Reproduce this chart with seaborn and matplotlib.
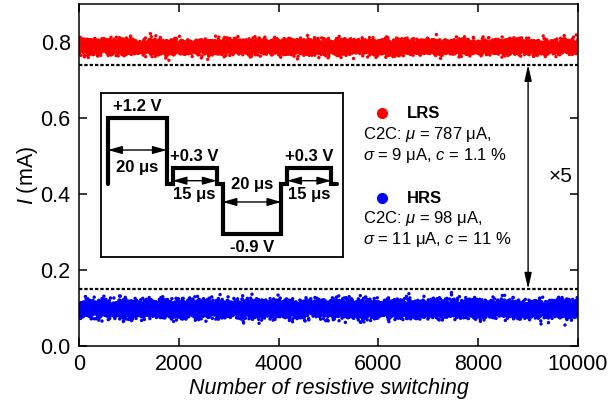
import numpy as np
import pandas as pd
import matplotlib
matplotlib.use("Agg")
import matplotlib.pyplot as plt
import seaborn as sns
from statistics import NormalDist

# ---- data -------------------------------------------------------------
n_cycles = 10000
states = ["LRS", "HRS"]
state_colors = ["#ff0000", "#0000ff"]
mean_uA = [787, 98]          # C2C mean current (µA)
sigma_uA = [9, 11]           # C2C standard deviation (µA)
cv_text = ["1.1", "11"]      # coefficient of variation (%)
read_limits_mA = [0.74, 0.15]  # dotted read-window bounds
window_ratio_label = "×5"
window_cycle = 9000

# write/read pulse train used for every switching cycle
pulse_volts = [1.2, 0.3, -0.9, 0.3]
pulse_width_us = [20, 15, 20, 15]
pulse_volt_labels = ["+1.2 V", "+0.3 V", "-0.9 V", "+0.3 V"]

x_ticks = [0, 2000, 4000, 6000, 8000, 10000]
y_ticks = [0.0, 0.2, 0.4, 0.6, 0.8]


def cycle_currents(mu, sd, n, salt):
    """Normal-quantile currents with the given mean/sigma, spread over cycles."""
    dist = NormalDist(mu, sd)
    q = np.array([dist.inv_cdf((i + 0.5) / n) for i in range(n)])
    idx = np.arange(n)
    order = np.argsort(np.modf(np.abs(np.sin(idx * 12.9898 + salt) * 43758.5453))[0])
    return q[order] / 1000.0


cycles = np.arange(1, n_cycles + 1)
frames = []
for k, st in enumerate(states):
    frames.append(pd.DataFrame({
        "cycle": cycles,
        "current": cycle_currents(mean_uA[k], sigma_uA[k], n_cycles, 78.233 * (k + 1)),
        "state": st,
    }))
df = pd.concat(frames, ignore_index=True)

# ---- style ------------------------------------------------------------
sns.set_theme(style="ticks")
plt.rcParams["font.family"] = ["Liberation Sans", "DejaVu Sans"]
plt.rcParams["mathtext.fontset"] = "custom"
plt.rcParams["mathtext.rm"] = "Liberation Sans"
plt.rcParams["mathtext.it"] = "Liberation Sans:italic"
plt.rcParams["mathtext.bf"] = "Liberation Sans:bold"
for key in ["text.color", "axes.labelcolor", "xtick.color", "ytick.color",
            "axes.edgecolor"]:
    plt.rcParams[key] = "black"

fig = plt.figure(figsize=(6.08, 4.07), dpi=100)
ax = fig.add_axes([79 / 608, 61 / 407, 499 / 608, 342 / 407])

sns.scatterplot(data=df, x="cycle", y="current", hue="state",
                palette=dict(zip(states, state_colors)), s=6, linewidth=0,
                legend=False, ax=ax, rasterized=True)

for lim in read_limits_mA:
    ax.axhline(lim, color="black", lw=1.6, ls=(0, (1.5, 0.9)), zorder=3)

ax.annotate("", xy=(window_cycle, read_limits_mA[1]),
            xytext=(window_cycle, read_limits_mA[0]),
            arrowprops=dict(arrowstyle="<|-|>,head_length=0.8,head_width=0.18",
                            color="black", lw=1.0, shrinkA=0, shrinkB=0), zorder=4)
ax.text(window_cycle + 400, 0.445, window_ratio_label, fontsize=15,
        ha="left", va="center")

ax.set_xlim(0, n_cycles)
ax.set_ylim(0, 0.9)
ax.set_xticks(x_ticks)
ax.set_yticks(y_ticks)
ax.set_yticklabels([f"{v:.1f}" for v in y_ticks])
ax.tick_params(direction="in", length=6, width=1.1, labelsize=15.5,
               top=True, right=True, pad=6, colors="black")
for sp in ax.spines.values():
    sp.set_linewidth(1.1)
    sp.set_color("black")
ax.set_xlabel("Number of resistive switching", fontsize=15.5, fontstyle="italic",
              labelpad=2)
ax.set_ylabel("$I$ (mA)", fontsize=15.5, labelpad=0)

# ---- statistics labels ------------------------------------------------
text_x = 5690
dot_x = 6070
name_x = 6570
rows_y = [(0.613, 0.556, 0.502), (0.389, 0.336, 0.279)]
for k, st in enumerate(states):
    y0, y1, y2 = rows_y[k]
    ax.plot([dot_x], [y0], marker="o", ms=7, color=state_colors[k], ls="none",
            zorder=5)
    ax.text(name_x, y0, st, fontsize=12, fontweight="bold", va="center", ha="left")
    ax.text(text_x, y1, f"C2C: $\\mu$ = {mean_uA[k]} μA,", fontsize=12,
            va="center", ha="left")
    ax.text(text_x, y2, f"$\\sigma$ = {sigma_uA[k]} μA, $c$ = {cv_text[k]} %",
            fontsize=12, va="center", ha="left")

# ---- pulse-train inset -----------------------------------------------
ins = ax.inset_axes([0.044, 0.260, 0.485, 0.480])
ins.set_xticks([])
ins.set_yticks([])
for sp in ins.spines.values():
    sp.set_linewidth(1.3)
    sp.set_color("black")
ins.set_facecolor("white")

gap = 2.0
tx, ty = [0.0], [0.0]
t = 0.0
starts = []
for v, w in zip(pulse_volts, pulse_width_us):
    starts.append(t)
    tx += [t, t + w, t + w, t + w + gap]
    ty += [v, v, 0.0, 0.0]
    t += w + gap
ins.plot(tx, ty, color="black", lw=3.0, solid_joinstyle="miter")
ins.set_xlim(-2.4, t + 2.0)
ins.set_ylim(-1.317, 1.653)

arrow_kw = dict(arrowstyle="<|-|>,head_length=0.7,head_width=0.2",
                color="black", lw=1.0, shrinkA=0, shrinkB=0)
for i, (v, w, s0) in enumerate(zip(pulse_volts, pulse_width_us, starts)):
    mid = s0 + w / 2
    if v > 1.0:
        ay, ly = 0.62, 0.31
    elif v > 0:
        ay, ly = 0.065, -0.19
    else:
        ay, ly = -0.32, -0.01
    ins.annotate("", xy=(s0, ay), xytext=(s0 + w, ay), arrowprops=arrow_kw)
    ins.text(mid, ly, f"{w} μs", fontsize=12, fontweight="bold",
             ha="center", va="center")
    if v > 0:
        ins.annotate(pulse_volt_labels[i], xy=(mid, v), xytext=(0, 3),
                     textcoords="offset points", fontsize=12, fontweight="bold",
                     ha="center", va="bottom")
    else:
        ins.annotate(pulse_volt_labels[i], xy=(mid, v), xytext=(0, -4),
                     textcoords="offset points", fontsize=12, fontweight="bold",
                     ha="center", va="top")

fig.savefig("out.png", dpi=100)
